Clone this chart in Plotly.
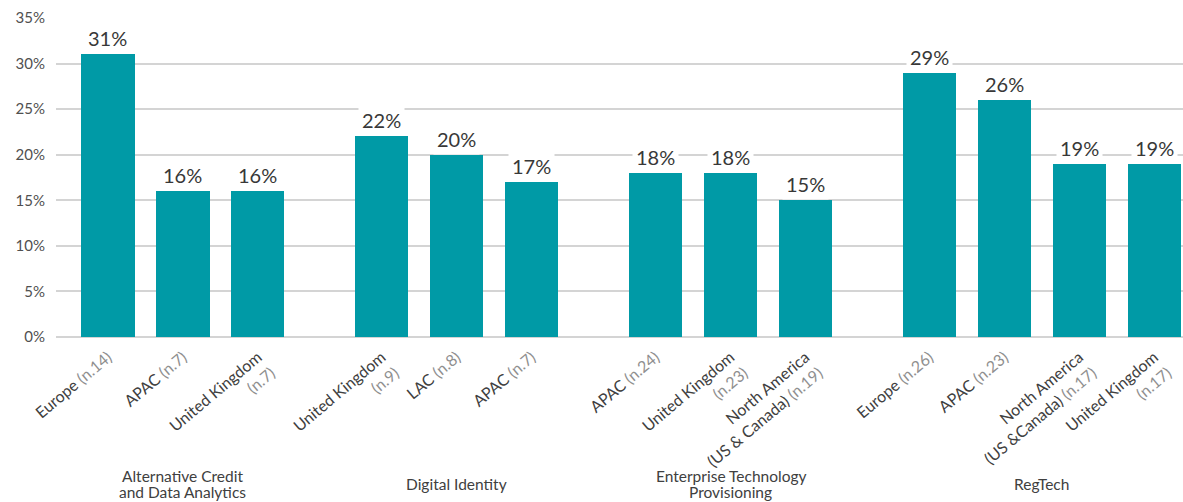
import plotly.graph_objects as go

groups = ["Alternative Credit<br>and Data Analytics", "Digital Identity",
          "Enterprise Technology<br>Provisioning", "RegTech"]
regions = [
    ["Europe", "APAC", "United Kingdom"],
    ["United Kingdom", "LAC", "APAC"],
    ["APAC", "United Kingdom", "North America<br>(US & Canada)"],
    ["Europe", "APAC", "North America<br>(US &Canada)", "United Kingdom"],
]
samples = [
    ["n.14", "n.7", "n.7"],
    ["n.9", "n.8", "n.7"],
    ["n.24", "n.23", "n.19"],
    ["n.26", "n.23", "n.17", "n.17"],
]
values = [
    [31, 16, 16],
    [22, 20, 17],
    [18, 18, 15],
    [29, 26, 19, 19],
]
# whether the sample size wraps onto its own line
wrap_n = [
    [False, False, True],
    [True, False, False],
    [False, True, False],
    [False, False, False, True],
]
y_ticks = [0, 5, 10, 15, 20, 25, 30, 35]

BAR = "#009AA6"
DARK = "#404040"
GREY = "#8f8f8f"
GROUP_GAP = 1.655  # slot units between the last bar of a group and the first of next

xs, ys, ticktext, group_centers = [], [], [], []
pos = 0.0
for gi, g in enumerate(groups):
    start = pos
    for ri, r in enumerate(regions[gi]):
        n = samples[gi][ri]
        sep = "<br>" if wrap_n[gi][ri] else " "
        ticktext.append(f"{r}{sep}<span style='color:{GREY}'>({n})</span>")
        xs.append(pos)
        ys.append(values[gi][ri])
        pos += 1
    group_centers.append((start + pos - 1) / 2)
    pos += GROUP_GAP - 1

fig = go.Figure()
fig.add_trace(go.Bar(x=xs, y=ys, width=0.71, marker=dict(color=BAR, line=dict(width=0)),
                     hoverinfo="skip"))

for x, y in zip(xs, ys):
    fig.add_annotation(x=x, y=y, xref="x", yref="y", text=f"{y}%", showarrow=False,
                       yanchor="bottom", yshift=0, bgcolor="white",
                       font=dict(family="Lato", size=20, color="#383838"), borderpad=3)

LINE_H = 16
for c, g in zip(group_centers, groups):
    lines = g.split("<br>")
    k = len(lines)
    for li, line in enumerate(lines):
        off = (li - (k - 1) / 2) * LINE_H
        fig.add_annotation(x=c, y=-0.461, xref="x", yref="paper", text=line, showarrow=False,
                           yanchor="middle", yshift=-off,
                           font=dict(family="Lato", size=15.5, color=DARK))

fig.update_layout(
    width=1183, height=502,
    margin=dict(l=56, r=0, t=18, b=165),
    plot_bgcolor="white", paper_bgcolor="white",
    showlegend=False, bargap=0,
    font=dict(family="Lato", color=DARK),
)
fig.update_xaxes(range=[-0.694, 14.35], tickmode="array", tickvals=xs, ticktext=ticktext,
                 tickangle=-40, tickfont=dict(family="Lato", size=16, color=DARK),
                 showgrid=False, zeroline=False, showline=False, ticks="",
                 ticklabelstandoff=7)
fig.update_yaxes(range=[0, 35], tickvals=y_ticks, ticktext=[f"{t}%" for t in y_ticks],
                 tickfont=dict(family="Lato", size=15, color="#505050"),
                 showgrid=True, gridcolor="#d4d4d4", gridwidth=1.5,
                 zeroline=True, zerolinecolor="#d4d4d4", zerolinewidth=1.5,
                 showline=False, ticks="", ticklabelstandoff=10)

fig.write_html("out.html", config={"displayModeBar": False},
               post_script="document.body.style.margin='0';document.body.style.padding='0';")
